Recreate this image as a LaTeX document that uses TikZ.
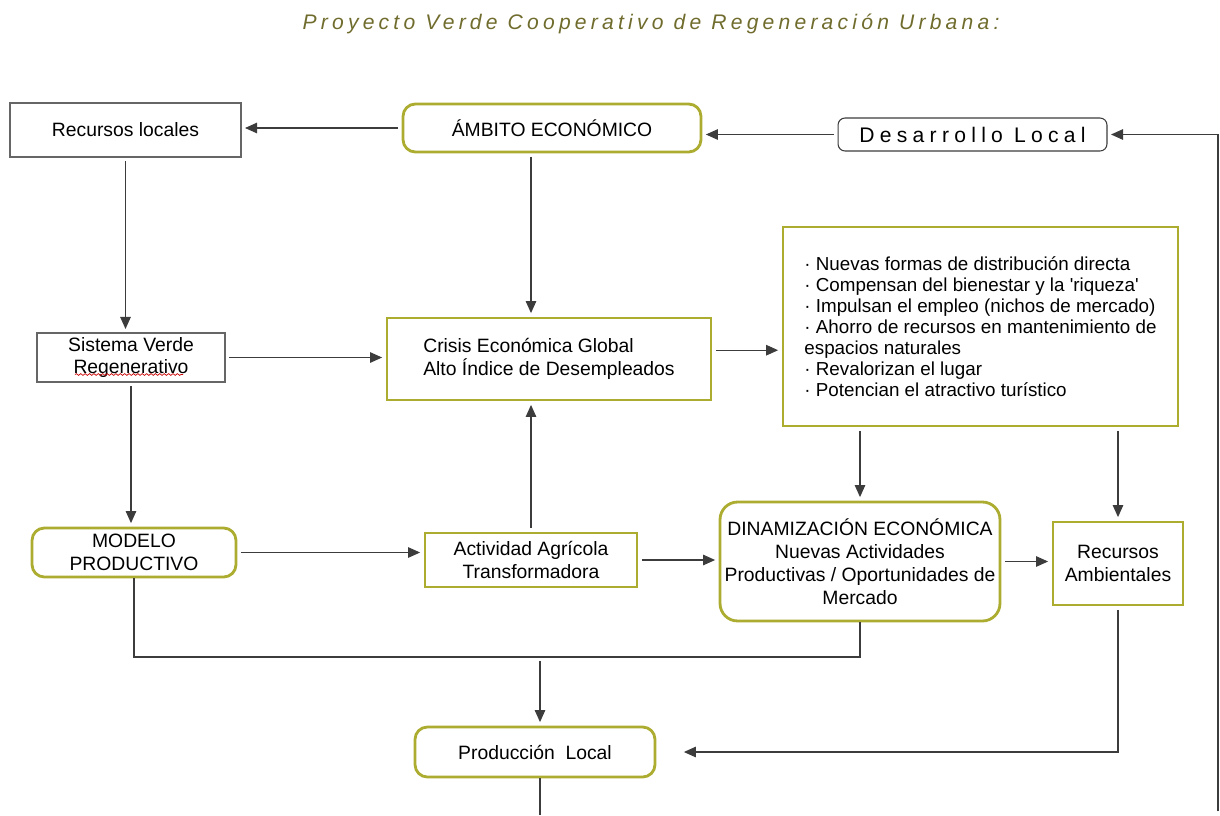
\documentclass[tikz,border=0pt]{standalone}
\usepackage{fontspec}
\setmainfont{Liberation Sans}
\newfontfamily\titlefont[LetterSpace=20]{Liberation Sans}
\newfontfamily\spacedfont[LetterSpace=25]{Liberation Sans}
\usepackage{tikz}
\usetikzlibrary{
  arrows.meta,
  positioning,
  calc,
  decorations.pathmorphing
}
\definecolor{olivebox}{RGB}{172,172,48}
\definecolor{olivetitle}{RGB}{112,108,45}
\definecolor{linegray}{RGB}{60,60,60}

\begin{document}
\begin{tikzpicture}[x=0.02cm, y=-0.02cm,
    obox/.style={
      rectangle, draw=olivebox, line width=1.6pt, fill=white,
      align=center, font=\fontsize{11}{13}\selectfont, inner sep=2pt
    },
    rbox/.style={obox, rounded corners=7pt},
    gbox/.style={
      rectangle, draw=gray!80!black, line width=0.6pt, fill=white,
      align=center, font=\fontsize{11}{13}\selectfont, inner sep=2pt
    },
    arr/.style={-{Triangle[length=2.4mm,width=2.1mm]}, linegray, line width=0.6pt,
      shorten <=2pt, shorten >=2pt},
    conn/.style={linegray, line width=0.6pt},
  ]
  \useasboundingbox (0,0) rectangle (1220,815);

  %% --- Title ---
  \node[font=\fontsize{12}{14}\selectfont\titlefont\itshape, text=olivetitle] (titulo) at (651,24)
    {Proyecto Verde Cooperativo de Regeneración Urbana:};

  %% --- Top row ---
  \node[gbox, minimum width=4.62cm, minimum height=1.08cm] (reclocal) at (125.5,130) {Recursos locales};
  \node[rbox, minimum width=5.96cm, minimum height=0.96cm] (ambito) at (552,128) {ÁMBITO ECONÓMICO};
  \node[gbox, rounded corners=4pt, draw=linegray, minimum width=5.38cm, minimum height=0.66cm,
    font=\fontsize{12}{13}\selectfont\spacedfont] (desarrollo) at (972.5,134.5) {Desarrollo Local};

  %% --- Middle row ---
  \node[gbox, minimum width=3.76cm, minimum height=0.98cm] (sistema) at (131,357.5)
    {Sistema Verde\\Regenerativo};
  \node[obox, align=left, minimum width=6.48cm, minimum height=1.64cm] (crisis) at (549,359)
    {Crisis Económica Global\\Alto Índice de Desempleados};
  \node[obox, align=left, minimum width=7.9cm, minimum height=3.98cm,
    font=\fontsize{10.7}{12}\selectfont] (efectos) at (980.5,326.5)
    {· Nuevas formas de distribución directa\\
     · Compensan del bienestar y la \textquotesingle riqueza\textquotesingle\\
     · Impulsan el empleo (nichos de mercado)\\
     · Ahorro de recursos en mantenimiento de\\
     espacios naturales\\
     · Revalorizan el lugar\\
     · Potencian el atractivo turístico};

  %% --- Lower row ---
  \node[rbox, minimum width=4.08cm, minimum height=0.98cm] (modelo) at (134,552.5)
    {MODELO\\PRODUCTIVO};
  \node[obox, minimum width=4.24cm, minimum height=1.08cm] (actividad) at (531,560)
    {Actividad Agrícola\\Transformadora};
  \node[rbox, rounded corners=10pt, minimum width=5.6cm, minimum height=2.38cm] (dinam) at (860,561.5)
    {DINAMIZACIÓN ECONÓMICA\\Nuevas Actividades\\Productivas / Oportunidades de\\Mercado};
  \node[obox, minimum width=2.6cm, minimum height=1.66cm] (recamb) at (1118,563.5)
    {Recursos\\Ambientales};
  \node[rbox, minimum width=4.8cm, minimum height=1.0cm] (produccion) at (535,752)
    {Producción\ \ Local};

  %% spell-check mark
  \draw[red!80!black, line width=0.4pt, decorate,
    decoration={snake, amplitude=0.5pt, segment length=2.5pt}]
    ($(sistema.center)+(-56,17)$) -- ($(sistema.center)+(52,17)$);

  %% --- Connectors ---
  \coordinate (retorno) at (1218,815);
  \coordinate (cruce) at (540,657);

  \draw[arr] (ambito.west) -- (ambito.west -| reclocal.east);
  \draw[arr] (desarrollo.west) -- (desarrollo.west -| ambito.east);
  \draw[arr] (retorno) |- (desarrollo.east);

  \draw[arr] (reclocal.south) -- (reclocal.south |- sistema.north);
  \draw[arr] (sistema.south) -- (sistema.south |- modelo.north);
  \draw[arr] (ambito.south -| actividad.north) -- (crisis.north -| actividad.north);
  \draw[arr] (actividad.north) -- (actividad.north |- crisis.south);
  \draw[arr] (sistema.east) -- (sistema.east -| crisis.west);
  \draw[arr] ([yshift=5pt]crisis.east) -- ([yshift=5pt]crisis.east -| efectos.west);

  \draw[arr] (modelo.east) -- (modelo.east -| actividad.west);
  \draw[arr] (actividad.east) -- (actividad.east -| dinam.west);
  \draw[arr] (dinam.north |- efectos.south) -- (dinam.north);
  \draw[arr] (recamb.north |- efectos.south) -- (recamb.north);
  \draw[arr] (dinam.east) -- (dinam.east -| recamb.west);

  \draw[conn] (modelo.south) |- (cruce) -| (dinam.south);
  \draw[arr] (cruce) -- (cruce |- produccion.north);
  \draw[arr, shorten >=0.55cm] (recamb.south) |- (produccion.east);
  \draw[conn] (cruce |- produccion.south) -- (cruce |- retorno);
\end{tikzpicture}
\end{document}
